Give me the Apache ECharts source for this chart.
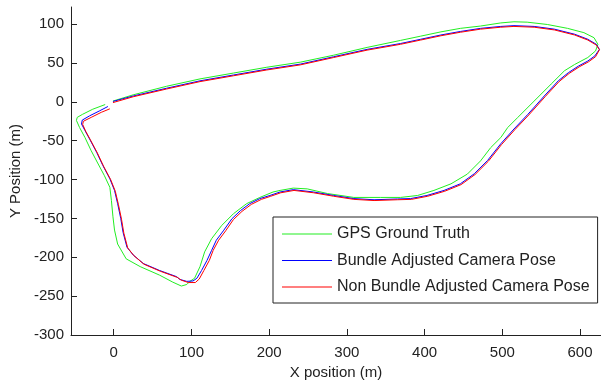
<!DOCTYPE html>
<html>
<head>
<meta charset="utf-8">
<script src="https://cdn.jsdelivr.net/npm/echarts@6/dist/echarts.min.js"></script>
<style>
  html, body { margin: 0; padding: 0; background: #fff; }
  #chart { width: 601px; height: 387px; }
</style>
</head>
<body>
<div id="chart"></div>
<script>
// tick positions
const xTicks = [0, 100, 200, 300, 400, 500, 600]
const yTicks = [-300, -250, -200, -150, -100, -50, 0, 50, 100]

const seriesNames = ['GPS Ground Truth', 'Bundle Adjusted Camera Pose', 'Non Bundle Adjusted Camera Pose']

// [x, y] in metres
const gpsTrack = [
  [-1, 1], [25, 9], [68, 20], [111, 29.5], [154, 37], [197, 44.5], [240, 51], [283, 60], [326, 70],
  [369, 79], [395, 84.5], [421, 90], [446, 94.5], [472, 97.5], [498, 101.5], [515, 103], [532, 102.5],
  [558, 99.5], [584, 94.5], [605, 89], [618, 82.5], [623, 74], [620, 65.5], [610, 57], [593, 48],
  [580, 40], [563, 23], [541, 1], [520, -20], [507, -33], [498, -46], [485, -59], [472, -76],
  [455, -93], [434, -105.5], [412, -114], [391, -120.5], [369, -123], [343, -123], [309, -123],
  [275, -118], [249, -112], [231, -111], [214, -114], [205, -116], [188, -123], [171, -131],
  [154, -144], [139, -159], [126, -176], [117, -193], [111, -212], [104, -227], [98, -231],
  [94, -235], [87, -237], [76, -232], [59, -223], [34, -212], [16, -202], [5, -183], [1, -165],
  [-1, -148], [-3, -127], [-5, -110], [-12, -95], [-20, -80], [-29, -63], [-37, -46], [-44, -33],
  [-48, -24], [-47, -20], [-40, -16], [-27, -9.5], [-11, -3.5]
]

const bundleTrack = [
  [-1, 0.5], [25, 7.5], [68, 17.5], [111, 27], [154, 34.5], [197, 42], [240, 48.5], [283, 58],
  [326, 67.5], [369, 75], [395, 80.5], [421, 86], [446, 90.5], [472, 94.5], [498, 97], [515, 98],
  [541, 97], [567, 93.5], [593, 87], [610, 80.5], [621, 74], [625, 67.5], [619, 59], [610, 52.5],
  [598, 46], [585, 37.5], [572, 27], [554, 7.5], [533, -16], [515, -35], [498, -54], [481, -75.5],
  [464, -92.5], [446, -105.5], [425, -114], [403, -120.5], [382, -124.5], [365, -125], [335, -126],
  [309, -124.5], [283, -120.5], [257, -116], [231, -113], [214, -116], [201, -120.5], [188, -124.5],
  [175, -131], [163, -140], [152, -150.5], [141, -166], [132, -178], [126, -191], [120, -204],
  [113, -217], [107, -227], [102, -230.5], [94, -231], [85, -228.5], [81, -225], [59, -217],
  [38, -208], [25, -197], [17, -187], [12, -168], [9, -150], [5, -131], [1, -114], [-5, -99],
  [-14, -82], [-22, -65], [-31, -48], [-37, -37], [-41.5, -28.5], [-40.5, -23.5], [-31, -18],
  [-18, -11.5], [-7.5, -6]
]

const nonBundleTrack = [
  [-1, -1], [25, 6.5], [68, 16.5], [111, 26], [154, 33.5], [197, 41], [240, 47.5], [283, 57],
  [326, 66.5], [369, 74], [395, 79.5], [421, 85], [446, 89.5], [472, 93.5], [498, 96], [515, 97],
  [541, 96], [567, 92.5], [593, 86], [610, 79.5], [621, 73], [625, 67], [620, 58], [611, 51.5],
  [599, 45], [586, 36.5], [573, 26], [555, 6.5], [534, -17], [516, -36], [499, -55], [482, -76.5],
  [465, -93.5], [447, -106.5], [426, -115], [404, -121.5], [383, -125.5], [365, -126], [335, -127],
  [309, -125.5], [283, -121.5], [257, -117], [232, -114], [215, -117], [202, -121.5], [190, -125.5],
  [177, -132], [165, -141], [154, -151.5], [144, -166], [135, -178], [128, -191], [123, -204],
  [116, -217], [110, -228], [105, -232.5], [96, -232.5], [87, -229.5], [82, -226], [60, -218],
  [39, -209], [26, -198], [18, -188], [13, -169], [10, -151], [6, -132], [2, -115], [-4, -100],
  [-13, -83], [-21, -66], [-30, -49], [-36, -38], [-40, -29], [-39, -25], [-29, -20], [-16, -13.5],
  [-5, -9]
]

const font = '"Liberation Sans", Arial, Helvetica, sans-serif'

function axisCommon(ticks) {
  return {
    axisLine: { show: true, onZero: false, lineStyle: { color: '#222', width: 1 } },
    axisTick: { show: true, inside: true, length: 6, customValues: ticks, lineStyle: { color: '#222' } },
    splitLine: { show: false },
    nameTextStyle: { color: '#222', fontFamily: font, fontSize: 15 },
  }
}

const chart = echarts.init(document.getElementById('chart'))
chart.setOption({
  animation: false,
  backgroundColor: '#fff',
  grid: { left: 71, right: 0, top: 7, bottom: 52, containLabel: false, outerBoundsMode: 'none' },
  legend: {
    data: seriesNames,
    orient: 'vertical',
    left: 273,
    top: 217,
    padding: [9, 8, 8, 9],
    borderColor: '#222',
    borderWidth: 1,
    backgroundColor: '#fff',
    icon: 'rect',
    itemWidth: 50,
    itemHeight: 1,
    itemGap: 10.5,
    selectedMode: false,
    textStyle: { color: '#222', fontFamily: font, fontSize: 16, lineHeight: 14 },
  },
  xAxis: {
    type: 'value',
    min: -55,
    max: 627,
    name: 'X position (m)',
    nameLocation: 'middle',
    nameGap: 30,
    ...axisCommon(xTicks),
    axisLabel: { customValues: xTicks, color: '#222', fontFamily: font, fontSize: 15, margin: 10 },
  },
  yAxis: {
    type: 'value',
    min: -300,
    max: 122,
    name: 'Y Position (m)',
    nameLocation: 'middle',
    nameGap: 48,
    ...axisCommon(yTicks),
    axisLabel: { customValues: yTicks, color: '#222', fontFamily: font, fontSize: 15, margin: 7 },
  },
  series: [
    { name: seriesNames[0], type: 'line', data: gpsTrack, color: '#22ee22' },
    { name: seriesNames[1], type: 'line', data: bundleTrack, color: '#0000ff' },
    { name: seriesNames[2], type: 'line', data: nonBundleTrack, color: '#ff0000' },
  ].map((s) => ({
    ...s,
    symbol: 'none',
    showSymbol: false,
    smooth: false,
    lineStyle: { width: 1, color: s.color },
    itemStyle: { color: s.color },
  })),
})
</script>
</body>
</html>
